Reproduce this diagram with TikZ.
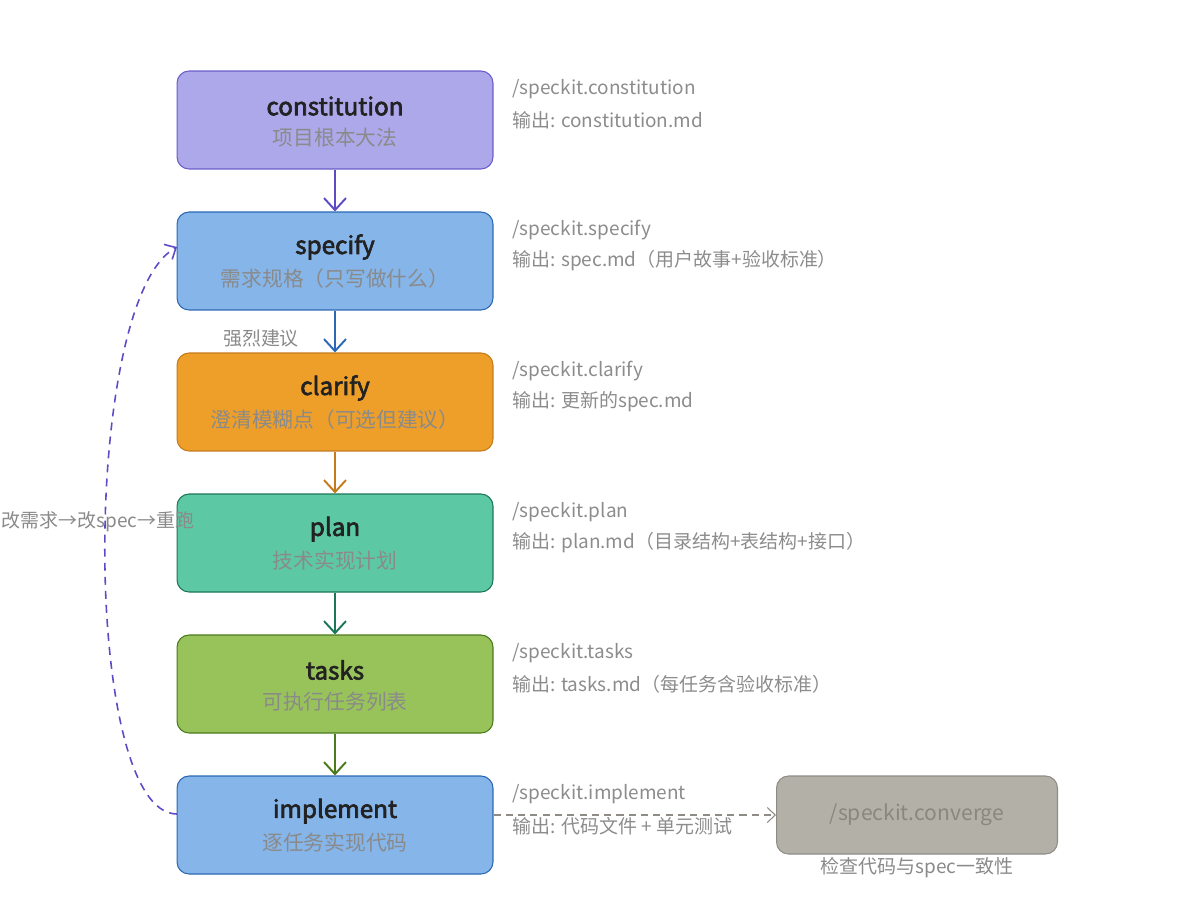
\documentclass[tikz,border=0pt]{standalone}
\usepackage{fontspec}
\setmainfont{Noto Sans CJK SC}
\newfontfamily\titlefont[FakeBold=2.6]{Noto Sans CJK SC}
\usetikzlibrary{arrows.meta}

\definecolor{titleink}{HTML}{222222}
\definecolor{subink}{HTML}{8A8A8A}
\definecolor{noteink}{HTML}{8C8C8C}
\definecolor{constfill}{HTML}{ADA8EA}
\definecolor{constline}{HTML}{6A5CCB}
\definecolor{bluefill}{HTML}{85B5E9}
\definecolor{blueline}{HTML}{2C68B5}
\definecolor{orangefill}{HTML}{EE9F2A}
\definecolor{orangeline}{HTML}{C57B1C}
\definecolor{tealfill}{HTML}{5DC9A4}
\definecolor{tealline}{HTML}{1C7658}
\definecolor{greenfill}{HTML}{98C35A}
\definecolor{greenline}{HTML}{4A7A1C}
\definecolor{grayfill}{HTML}{B3B0A8}
\definecolor{grayline}{HTML}{8F8C85}
\definecolor{grayink}{HTML}{8A877F}
\definecolor{loopline}{HTML}{5B4BC4}

\tikzset{
  stagebox/.style={draw, rounded corners=0.24cm, line width=0.6pt,
    minimum width=6.32cm, minimum height=1.96cm},
  stagetitle/.style={text=titleink, font=\fontsize{13.8}{16}\titlefont, inner sep=0pt},
  stagesub/.style={text=subink, font=\fontsize{11.8}{14}\selectfont, inner sep=0pt},
  note/.style={anchor=west, text=noteink, font=\fontsize{10.8}{13}\selectfont, inner sep=0pt},
  flow/.style={line width=1.1pt, -{Straight Barb[length=2.4mm,width=4.4mm]}},
}

\begin{document}
\begin{tikzpicture}[x=0.02cm, y=-0.02cm]
  \useasboundingbox (0,0) rectangle (1200,900);

  %%%%% boxes %%%%%
  \node[stagebox, fill=constfill, draw=constline] (constitution) at (335,120) {};
  \node[stagetitle] (constitution-t) at (335,106) {constitution};
  \node[stagesub] (constitution-s) at (335,138) {项目根本大法};

  \node[stagebox, fill=bluefill, draw=blueline] (specify) at (335,261) {};
  \node[stagetitle] (specify-t) at (335,247) {specify};
  \node[stagesub] (specify-s) at (335,279) {需求规格（只写做什么）};

  \node[stagebox, fill=orangefill, draw=orangeline] (clarify) at (335,402) {};
  \node[stagetitle] (clarify-t) at (335,388) {clarify};
  \node[stagesub] (clarify-s) at (335,420) {澄清模糊点（可选但建议）};

  \node[stagebox, fill=tealfill, draw=tealline] (plan) at (335,543) {};
  \node[stagetitle] (plan-t) at (335,529) {plan};
  \node[stagesub] (plan-s) at (335,561) {技术实现计划};

  \node[stagebox, fill=greenfill, draw=greenline] (tasks) at (335,684) {};
  \node[stagetitle] (tasks-t) at (335,670) {tasks};
  \node[stagesub] (tasks-s) at (335,702) {可执行任务列表};

  \node[stagebox, fill=bluefill, draw=blueline] (implement) at (335,825) {};
  \node[stagetitle] (implement-t) at (335,811) {implement};
  \node[stagesub] (implement-s) at (335,843) {逐任务实现代码};

  \node[stagebox, fill=grayfill, draw=grayline, minimum width=5.62cm, minimum height=1.56cm,
    text=grayink, font=\fontsize{12}{14}\selectfont] (converge) at (917,815) {/speckit.converge};
  \node[text=subink, font=\fontsize{10.8}{13}\selectfont, inner sep=0pt] (converge-s) at (917,868) {检查代码与spec一致性};

  %%%%% notes %%%%%
  \node[note] (constitution-c) at (512,89) {/speckit.constitution};
  \node[note] (constitution-o) at (512,120) {输出: constitution.md};
  \node[note] (specify-c) at (512,230) {/speckit.specify};
  \node[note] (specify-o) at (512,261) {输出: spec.md（用户故事+验收标准）};
  \node[note] (clarify-c) at (512,371) {/speckit.clarify};
  \node[note] (clarify-o) at (512,402) {输出: 更新的spec.md};
  \node[note] (plan-c) at (512,512) {/speckit.plan};
  \node[note] (plan-o) at (512,543) {输出: plan.md（目录结构+表结构+接口）};
  \node[note] (tasks-c) at (512,653) {/speckit.tasks};
  \node[note] (tasks-o) at (512,684) {输出: tasks.md（每任务含验收标准）};
  \node[note] (implement-c) at (512,794) {/speckit.implement};
  \node[note] (implement-o) at (512,826) {输出: 代码文件 + 单元测试};

  %%%%% arrows %%%%%
  \draw[flow, color=loopline] (constitution) -- (specify);
  \draw[flow, color=blueline] (specify) -- (clarify);
  \draw[flow, color=orangeline] (clarify) -- (plan);
  \draw[flow, color=tealline] (plan) -- (tasks);
  \draw[flow, color=greenline] (tasks) -- (implement);
  \node[text=subink, font=\fontsize{10.8}{13}\selectfont, inner sep=0pt] (hint) at (261,338) {强烈建议};

  \draw[grayline, line width=0.6pt, dash pattern=on 4pt off 3pt, -{Straight Barb[length=1.6mm,width=3mm]}]
    (implement.east |- converge.west) -- (converge.west);

  \coordinate (loop-start) at (177,814);
  \coordinate (loop-end) at (177,247);
  \draw[loopline, line width=0.9pt, dash pattern=on 4.5pt off 3.5pt, -{Straight Barb[length=1.8mm,width=3.4mm]}]
    (loop-start) .. controls (81,814) and (81,300) .. (loop-end);
  \node[text=subink, font=\fontsize{10.8}{13}\selectfont, inner sep=0pt] (loop-label) at (98,522) {改需求→改spec→重跑};

\end{tikzpicture}
\end{document}
